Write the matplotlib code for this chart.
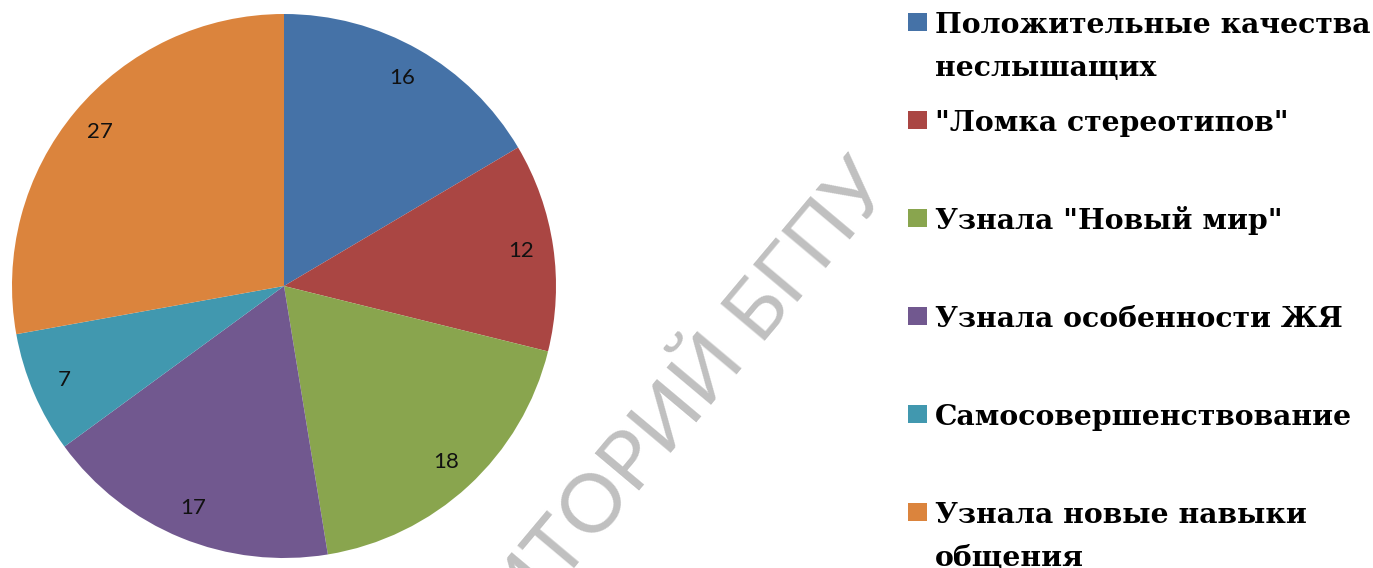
import matplotlib
matplotlib.use("Agg")
import matplotlib.pyplot as plt
from matplotlib.patches import Rectangle

categories = [
    "Положительные качества\nнеслышащих",
    "\"Ломка стереотипов\"",
    "Узнала \"Новый мир\"",
    "Узнала особенности ЖЯ",
    "Самосовершенствование",
    "Узнала новые навыки\nобщения",
]
values = [16, 12, 18, 17, 7, 27]
colors = ["#4572A7", "#AA4643", "#89A54E", "#71588F", "#4198AF", "#DB843D"]
watermark = "РЕПОЗИТОРИЙ БГПУ"

W, H = 1373, 568
fig = plt.figure(figsize=(W / 100, H / 100), dpi=100)
fig.patch.set_facecolor("white")

cx, cy, r = 284, 286, 272
ax = fig.add_axes([(cx - r) / W, (H - cy - r) / H, 2 * r / W, 2 * r / H])
total = sum(values)
wedges, texts, autotexts = ax.pie(
    values, colors=colors, startangle=90, counterclock=False, radius=1,
    autopct=lambda p: f"{round(p * total / 100):d}", pctdistance=0.88,
    wedgeprops=dict(linewidth=0),
    textprops=dict(family="Lato", fontsize=16, color="#111111"),
)
ax.set_xlim(-1, 1)
ax.set_ylim(-1, 1)
ax.axis("off")

# legend drawn manually (pixel coordinates)
def px(x, y):
    return x / W, 1 - y / H

for i, (lab, col) in enumerate(zip(categories, colors)):
    base = 33 + 98 * i
    x0, y0 = px(908, base - 2)
    fig.add_artist(Rectangle((x0, y0), 19 / W, 18 / H, transform=fig.transFigure,
                             facecolor=col, edgecolor="none"))
    for j, line in enumerate(lab.split("\n")):
        tx, ty = px(935, base + 43 * j)
        fig.text(tx, ty, line, family="DejaVu Serif", weight="bold",
                 fontsize=20.3, color="black", ha="left", va="baseline")

# watermark
wx, wy = px(893, 188)
fig.text(wx, wy, watermark, family="Lato", fontsize=59, color="#c0c0c0",
         rotation=50, rotation_mode="anchor", ha="right", va="baseline", zorder=10)

fig.savefig("out.png", dpi=100, facecolor="white")
